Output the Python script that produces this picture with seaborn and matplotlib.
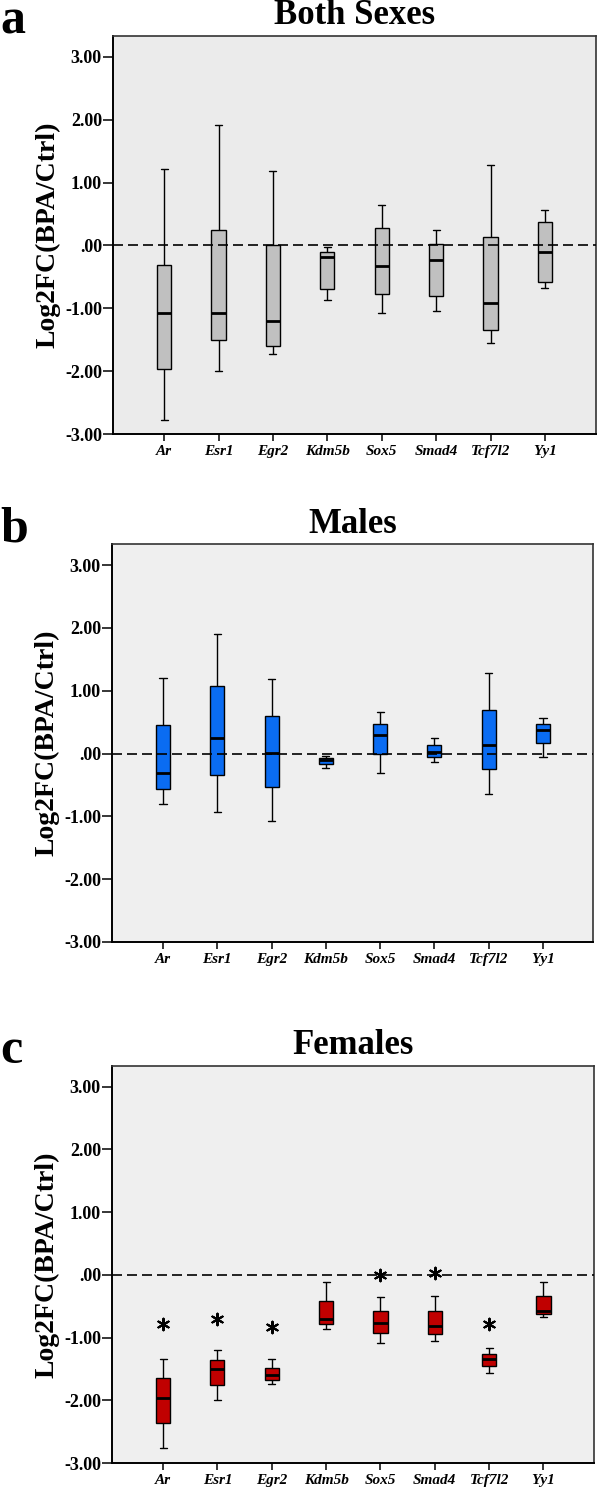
import numpy as np
import pandas as pd
import seaborn as sns
import matplotlib.pyplot as plt

# Genes on the x axis
genes = ["Ar", "Esr1", "Egr2", "Kdm5b", "Sox5", "Smad4", "Tcf7l2", "Yy1"]

# Box statistics: whisker low, Q1, median, Q3, whisker high
both_low = [-2.77, -1.99, -1.73, -0.87, -1.08, -1.05, -1.55, -0.67]
both_q1 = [-1.97, -1.51, -1.60, -0.69, -0.77, -0.81, -1.35, -0.58]
both_med = [-1.08, -1.07, -1.21, -0.18, -0.33, -0.23, -0.91, -0.10]
both_q3 = [-0.31, 0.24, 0.00, -0.10, 0.28, 0.02, 0.13, 0.38]
both_high = [1.21, 1.91, 1.19, -0.03, 0.65, 0.25, 1.28, 0.56]

male_low = [-0.80, -0.93, -1.07, -0.23, -0.31, -0.13, -0.64, -0.06]
male_q1 = [-0.56, -0.34, -0.53, -0.16, 0.00, -0.05, -0.25, 0.16]
male_med = [-0.31, 0.25, 0.01, -0.11, 0.29, 0.03, 0.13, 0.38]
male_q3 = [0.45, 1.08, 0.59, -0.07, 0.47, 0.14, 0.70, 0.47]
male_high = [1.21, 1.90, 1.19, -0.04, 0.66, 0.25, 1.28, 0.56]

fem_low = [-2.76, -1.99, -1.74, -0.87, -1.08, -1.05, -1.56, -0.67]
fem_q1 = [-2.37, -1.75, -1.67, -0.78, -0.93, -0.94, -1.46, -0.62]
fem_med = [-1.96, -1.50, -1.60, -0.70, -0.76, -0.81, -1.34, -0.57]
fem_q3 = [-1.65, -1.35, -1.48, -0.41, -0.57, -0.58, -1.26, -0.34]
fem_high = [-1.34, -1.20, -1.34, -0.12, -0.36, -0.34, -1.17, -0.12]

# significance stars in the female panel
star_genes = ["Ar", "Esr1", "Egr2", "Sox5", "Smad4", "Tcf7l2"]
star_y = [-0.79, -0.70, -0.83, 0.00, 0.03, -0.78]

yticks = [-3, -2, -1, 0, 1, 2, 3]


def make_df(low, q1, med, q3, high):
    # five points per gene give exactly these quartiles (whiskers at min/max)
    rows = []
    for i, g in enumerate(genes):
        for v in (low[i], q1[i], med[i], q3[i], high[i]):
            rows.append({"gene": g, "value": v})
    return pd.DataFrame(rows)


def fmt_tick(v):
    s = f"{v:.2f}"
    if s.startswith("0"):
        s = s[1:]
    return s


sns.set_style("white")
plt.rcParams["font.family"] = ["Liberation Serif", "DejaVu Serif"]
plt.rcParams["text.color"] = "black"
plt.rcParams["axes.labelcolor"] = "black"
plt.rcParams["xtick.color"] = "black"
plt.rcParams["ytick.color"] = "black"

fig = plt.figure(figsize=(5.97, 14.89), dpi=100)

panels = [
    ("a", "Both Sexes", make_df(both_low, both_q1, both_med, both_q3, both_high),
     "#c0c0c0", "#ebebeb", [0.1893, 0.7085, 0.8082, 0.2673]),
    ("b", "Males", make_df(male_low, male_q1, male_med, male_q3, male_high),
     "#0a6cf2", "#efefef", [0.1876, 0.3674, 0.8065, 0.2670]),
    ("c", "Females", make_df(fem_low, fem_q1, fem_med, fem_q3, fem_high),
     "#c00000", "#efefef", [0.1876, 0.01746, 0.8074, 0.2666]),
]

for letter, title, df, col, bg, rect in panels:
    ax = fig.add_axes(rect)
    ax.set_facecolor(bg)
    sns.boxplot(data=df, x="gene", y="value", order=genes, color=col,
                saturation=1, width=0.26, whis=(0, 100), linecolor="black",
                linewidth=1.0, fliersize=0,
                medianprops={"color": "black", "linewidth": 2.0},
                ax=ax)
    ax.axhline(0, color="black", lw=1.2, ls=(0, (6, 3)), zorder=5)

    if letter == "c":
        sdf = pd.DataFrame({"gene": star_genes, "y": star_y})
        sns.scatterplot(data=sdf, x="gene", y="y", marker=(6, 2, 0), s=70,
                        color="black", linewidth=1.5, ax=ax, zorder=6)

    ax.set_xlim(-0.94, 7.93)
    ax.set_ylim(-3.0, 3.33)
    ax.set_yticks(yticks)
    ax.set_yticklabels([fmt_tick(v) for v in yticks], fontsize=13,
                       fontweight="bold")
    ax.set_xticks(range(len(genes)))
    ax.set_xticklabels(genes, fontsize=11, fontweight="bold", style="italic")
    ax.tick_params(axis="y", direction="out", length=7, width=1.1, pad=1,
                   left=True, colors="black")
    ax.tick_params(axis="x", direction="out", length=5, width=1.1, pad=3,
                   bottom=True, colors="black")
    ax.set_xlabel("")
    ax.set_ylabel("Log2FC(BPA/Ctrl)", fontsize=20, fontweight="bold")
    ax.yaxis.set_label_coords(-0.108, 0.5)
    for side in ["top", "right"]:
        ax.spines[side].set_color("#333333")
        ax.spines[side].set_linewidth(1.2)
    for side in ["left", "bottom"]:
        ax.spines[side].set_color("black")
        ax.spines[side].set_linewidth(1.4)
    ax.set_title(title, fontsize=25, fontweight="bold", pad=8.5)

    top_px = (1 - rect[1] - rect[3]) * 1489
    fig.text(0.0, 1 - (top_px - 3) / 1489, letter, fontsize=36,
             fontweight="bold", va="baseline", ha="left")

fig.savefig("out.png", dpi=100)
